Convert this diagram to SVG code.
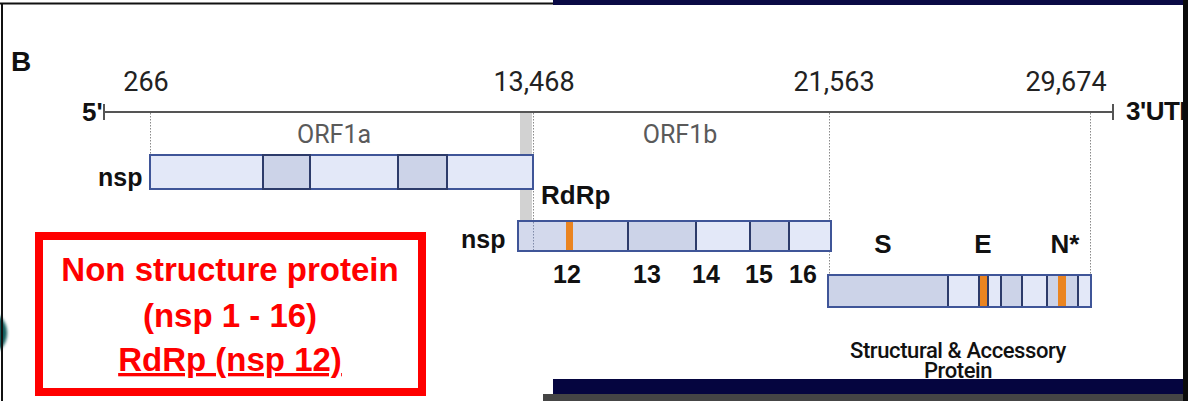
<svg xmlns="http://www.w3.org/2000/svg" width="1188" height="401" viewBox="0 0 1188 401">
  <defs>
    <style>
      .num { font-family: Roboto, "Liberation Sans", sans-serif; font-size: 27px; fill: #222; }
      .orf { font-family: Roboto, "Liberation Sans", sans-serif; font-size: 25px; fill: #5a5a5a; }
      .lbl { font-family: "Liberation Sans", Arial, sans-serif; font-weight: 700; font-size: 26px; fill: #111; }
      .nsp { font-family: "Liberation Sans", Arial, sans-serif; font-weight: 700; font-size: 25px; fill: #111; }
      .box { fill: #e3e8f8; stroke: #3f5598; stroke-width: 2; }
      .seg { fill: #ccd3e8; stroke: #2d3b6a; stroke-width: 2; }
      .div { stroke: #2d3b6a; stroke-width: 2; }
      .orange { fill: #ea8420; }
      .guide { stroke: #8a8a8a; stroke-width: 1; stroke-dasharray: 1.5 1.5; fill: none; }
      .caption { font-family: Roboto, "Liberation Sans", sans-serif; font-weight: 500; font-size: 22px; letter-spacing: -0.4px; fill: #111; text-anchor: middle; }
      .callout { font-family: "Liberation Sans", Arial, sans-serif; font-weight: 700; font-size: 33px; fill: #ff0000; text-anchor: middle; }
    </style>
    <filter id="soft" x="-50%" y="-50%" width="200%" height="200%">
      <feGaussianBlur stdDeviation="1.5"/>
    </filter>
  </defs>

  <!-- page background and slide frame -->
  <rect x="0" y="0" width="1188" height="401" fill="#ffffff"/>
  <ellipse cx="-11" cy="333" rx="18" ry="21" fill="#0c5c5c" filter="url(#soft)"/>
  <rect x="0" y="2.5" width="553" height="2" fill="#111"/>
  <rect x="1" y="3" width="2" height="398" fill="#111"/>
  <rect x="553" y="0" width="635" height="5" fill="#0a0a45"/>

  <text x="11" y="71" font-family="'Liberation Sans', Arial, sans-serif" font-weight="700" font-size="28" fill="#111">B</text>

  <!-- genome axis with coordinates -->
  <g id="genome-axis">
    <line x1="104" y1="112" x2="1113" y2="112" stroke="#555" stroke-width="2"/>
    <line x1="104" y1="104" x2="104" y2="120" stroke="#555" stroke-width="2"/>
    <line x1="1113" y1="104" x2="1113" y2="120" stroke="#555" stroke-width="2"/>
    <text x="82" y="121" class="lbl" font-size="25">5'</text>
    <text x="1126" y="120" class="lbl" font-size="22" letter-spacing="-0.5">3'UTR</text>
    <text x="146" y="91" class="num" text-anchor="middle">266</text>
    <text x="534" y="91" class="num" text-anchor="middle">13,468</text>
    <text x="834" y="91" class="num" text-anchor="middle">21,563</text>
    <text x="1066" y="91" class="num" text-anchor="middle">29,674</text>
  </g>

  <!-- ribosomal frameshift band -->
  <rect x="520" y="113" width="12" height="109" fill="#d2d2d2"/>

  <!-- guide lines dropping from the axis -->
  <g id="connectors">
    <line class="guide" x1="150.5" y1="113" x2="150.5" y2="155"/>
    <line class="guide" x1="533.5" y1="113" x2="533.5" y2="252"/>
    <line class="guide" x1="829.5" y1="113" x2="829.5" y2="277"/>
    <line class="guide" x1="1090.5" y1="113" x2="1090.5" y2="277"/>
  </g>

  <!-- ORF1a polyprotein -->
  <g id="orf1a">
    <text x="334" y="143" class="orf" text-anchor="middle">ORF1a</text>
    <text x="98" y="186" class="nsp">nsp</text>
    <rect class="box" x="150" y="155" width="383" height="34"/>
    <rect class="seg" x="263" y="155" width="47" height="34"/>
    <rect class="seg" x="398" y="155" width="49" height="34"/>
  </g>

  <!-- ORF1b polyprotein -->
  <g id="orf1b">
    <text x="680" y="143" class="orf" text-anchor="middle">ORF1b</text>
    <text x="541" y="204" class="lbl">RdRp</text>
    <text x="461" y="248" class="nsp">nsp</text>
    <rect class="box" x="518" y="221" width="313" height="30"/>
    <rect x="519" y="222" width="109" height="28" fill="#d3d9ec"/>
    <rect x="629" y="222" width="67" height="28" fill="#ccd3e8"/>
    <rect x="751" y="222" width="38" height="28" fill="#ccd3e8"/>
    <line class="div" x1="628" y1="221" x2="628" y2="251"/>
    <line class="div" x1="696" y1="221" x2="696" y2="251"/>
    <line class="div" x1="750" y1="221" x2="750" y2="251"/>
    <line class="div" x1="789" y1="221" x2="789" y2="251"/>
    <line x1="533.5" y1="222" x2="533.5" y2="250" stroke="#7f8aa8" stroke-width="1" stroke-dasharray="1.5 1.5"/>
    <rect class="orange" x="566" y="222" width="7" height="28"/>
    <rect x="518" y="221" width="313" height="30" fill="none" stroke="#3f5598" stroke-width="2"/>
    <text x="567" y="283" class="nsp" text-anchor="middle">12</text>
    <text x="647" y="283" class="nsp" text-anchor="middle">13</text>
    <text x="706" y="283" class="nsp" text-anchor="middle">14</text>
    <text x="759" y="283" class="nsp" text-anchor="middle">15</text>
    <text x="803" y="283" class="nsp" text-anchor="middle">16</text>
  </g>

  <!-- structural and accessory genes -->
  <g id="structural">
    <text x="883" y="253" class="lbl" text-anchor="middle">S</text>
    <text x="983" y="253" class="lbl" text-anchor="middle">E</text>
    <text x="1065" y="253" class="lbl" text-anchor="middle">N*</text>
    <rect class="box" x="828" y="275" width="263" height="32"/>
    <rect class="seg" x="828" y="275" width="120" height="32"/>
    <rect class="orange" x="979" y="276" width="9" height="30"/>
    <line class="div" x1="979" y1="275" x2="979" y2="307"/>
    <line class="div" x1="988" y1="275" x2="988" y2="307"/>
    <rect class="seg" x="1001" y="275" width="21" height="32"/>
    <rect class="seg" x="1047" y="275" width="31" height="32"/>
    <rect class="orange" x="1058" y="276" width="8" height="30"/>
    <rect x="828" y="275" width="263" height="32" fill="none" stroke="#3f5598" stroke-width="2"/>
    <text x="958" y="358" class="caption">Structural &amp; Accessory</text>
    <text x="958" y="378" class="caption">Protein</text>
  </g>

  <!-- bottom bars sit over the clipped caption -->
  <rect x="553" y="379" width="635" height="15" fill="#05053f"/>
  <rect x="543" y="394" width="645" height="7" fill="#454545"/>
  <rect x="1183" y="0" width="5" height="401" fill="#0b0b0b"/>

  <!-- callout -->
  <g id="callout">
    <rect x="39" y="236" width="383" height="156" fill="none" stroke="#ff0000" stroke-width="8"/>
    <text x="230" y="281" class="callout">Non structure protein</text>
    <text x="230" y="327" class="callout">(nsp 1 - 16)</text>
    <text x="230" y="371" class="callout" text-decoration="underline">RdRp (nsp 12)</text>
  </g>
</svg>
